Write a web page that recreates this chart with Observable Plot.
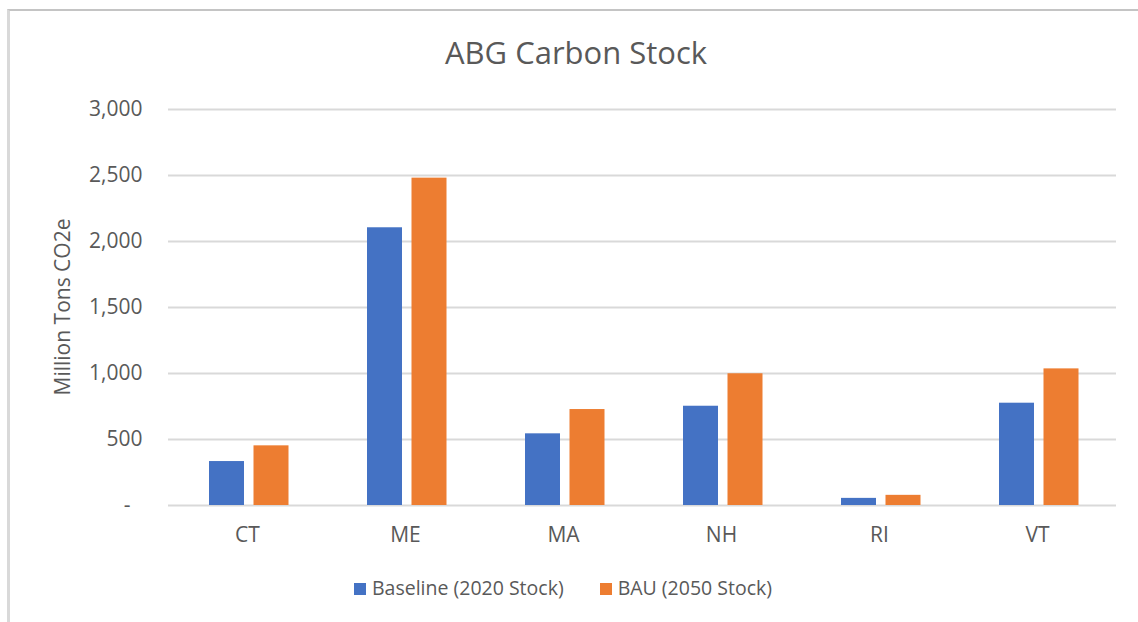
<!DOCTYPE html>
<html>
<head>
<meta charset="utf-8">
<script src="https://cdn.jsdelivr.net/npm/d3@7"></script>
<script src="https://cdn.jsdelivr.net/npm/@observablehq/plot@0.6"></script>
<style>
  html, body { margin: 0; padding: 0; background: #fff; }
  #wrap { position: relative; width: 1138px; height: 622px; overflow: hidden; font-family: "Open Sans", sans-serif; color: #595959; }
  #frame { position: absolute; left: 7px; top: 9px; width: 1140px; height: 620px; border-top: 2px solid #c4c4c4; border-left: 3px solid #d9d9d9; box-sizing: border-box; }
  #title { position: absolute; left: 0; top: 37px; width: 1152px; text-align: center; font-size: 31px; line-height: 31px; }
  #chart { position: absolute; left: 0; top: 80px; }
  #ylabel { position: absolute; left: -98px; top: 297px; width: 320px; height: 20px; text-align: center; transform: rotate(-90deg); transform-origin: 160px 10px; white-space: nowrap; font-size: 21px; line-height: 20px; }
  #legend { position: absolute; left: 0; top: 578px; width: 1126px; display: flex; justify-content: center; font-size: 19.5px; line-height: 20px; }
  .item { display: flex; align-items: center; margin: 0 18px; }
  .sw { width: 12px; height: 12px; margin-right: 6px; margin-top: 1px; }
</style>
</head>
<body>
<div id="wrap">
  <div id="frame"></div>
  <div id="title"></div>
  <div id="chart"></div>
  <div id="ylabel"></div>
  <div id="legend"></div>
</div>
<script>
const titleText = "ABG Carbon Stock";
const yLabel = "Million Tons CO2e";
const states = ["CT", "ME", "MA", "NH", "RI", "VT"];
const baseline = [333, 2104, 543, 752, 54, 775];
const bau = [452, 2480, 727, 998, 77, 1035];
const seriesNames = ["Baseline (2020 Stock)", "BAU (2050 Stock)"];
const seriesColors = ["#4472C4", "#ED7D31"];
const yTicks = [0, 500, 1000, 1500, 2000, 2500, 3000];

document.getElementById("title").textContent = titleText;
document.getElementById("ylabel").textContent = yLabel;

const baseRows = states.map((s, i) => ({state: s, value: baseline[i]}));
const bauRows = states.map((s, i) => ({state: s, value: bau[i]}));

const fmt = d3.format(",");
const chart = Plot.plot({
  width: 1138,
  height: 480,
  marginLeft: 168,
  marginRight: 22,
  marginTop: 29,
  marginBottom: 55,
  style: {fontFamily: "Open Sans", fontSize: "21px", color: "#595959", background: "transparent"},
  x: {type: "band", domain: states, padding: 0, label: null, tickSize: 0, tickPadding: 22},
  y: {domain: [0, 3000], ticks: yTicks, tickSize: 0, tickPadding: 26,
      tickFormat: d => d === 0 ? "-\u2007" : fmt(d), label: null},
  marks: [
    Plot.ruleY(yTicks, {stroke: "#d9d9d9", strokeWidth: 2}),
    Plot.barY(baseRows, {x: "state", y: "value", fill: seriesColors[0], insetLeft: 41, insetRight: 82}),
    Plot.barY(bauRows, {x: "state", y: "value", fill: seriesColors[1], insetLeft: 85.5, insetRight: 37.5})
  ]
});
document.getElementById("chart").appendChild(chart);

const legend = document.getElementById("legend");
seriesNames.forEach((n, i) => {
  const it = document.createElement("div");
  it.className = "item";
  const sw = document.createElement("div");
  sw.className = "sw";
  sw.style.background = seriesColors[i];
  const tx = document.createElement("span");
  tx.textContent = n;
  it.appendChild(sw);
  it.appendChild(tx);
  legend.appendChild(it);
});
</script>
</body>
</html>
